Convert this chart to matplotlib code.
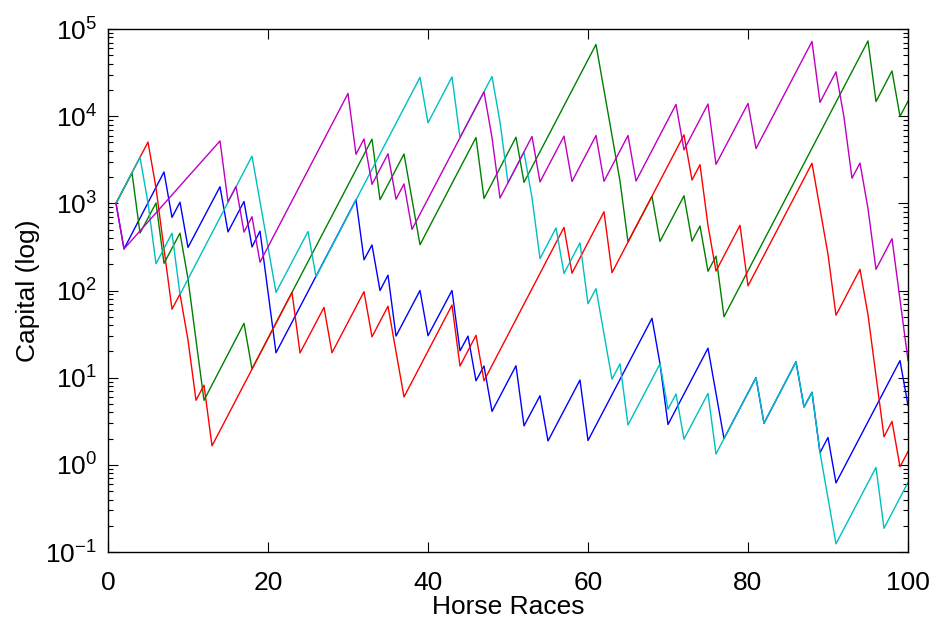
import matplotlib
matplotlib.use("Agg")
import matplotlib.pyplot as plt
from matplotlib.ticker import LogLocator, NullLocator

# capital after each race, one run per colour (turning points only)
blue_x = [1, 2, 7, 8, 9, 10, 14, 15, 17, 18, 19, 21, 31, 32, 33, 34, 35, 36, 39, 40,
          43, 44, 45, 46, 47, 48, 51, 52, 54, 55, 59, 60, 68, 69, 70, 75, 77, 81, 82, 86,
          87, 88, 89, 90, 91, 99, 100]
blue_y = [1000, 300, 2290, 690, 1030, 312, 1550, 470, 1050, 316, 480, 19.3, 1100, 225, 333, 100, 150, 30, 100, 30.3,
          100, 20.3, 30, 9.2, 13.6, 4.1, 13.7, 2.8, 6.2, 1.88, 9.4, 1.9, 48, 14.4, 2.9, 21.8, 2.0, 10, 3.0, 15.2,
          4.6, 6.8, 1.38, 2.06, 0.62, 15.7, 4.8]

green_x = [1, 3, 4, 6, 7, 9, 10, 11, 12, 17, 18, 33, 34, 37, 39, 46, 47, 51, 52, 61,
           62, 63, 64, 65, 68, 69, 72, 73, 74, 75, 76, 77, 95, 96, 98, 99, 100]
green_y = [1000, 2230, 455, 1010, 205, 455, 136, 27, 5.5, 42, 12.6, 5450, 1100, 3680, 335, 5690, 1135, 5740, 1740, 66500,
           19900, 6000, 1800, 362, 1200, 366, 1220, 368, 550, 166, 248, 50, 73000, 14700, 33000, 9950, 14850]

red_x = [1, 5, 6, 7, 8, 9, 10, 11, 12, 13, 23, 24, 27, 28, 32, 33, 35, 37, 43, 44,
         46, 47, 57, 58, 62, 63, 72, 73, 74, 75, 76, 79, 80, 88, 89, 90, 91, 94, 95, 96,
         97, 98, 99, 100]
red_y = [1000, 5050, 1500, 300, 61, 91, 27, 5.5, 8.2, 1.65, 95, 19.2, 64, 19.3, 97, 29.4, 66, 6, 68, 13.6,
         30.6, 9.2, 530, 158, 800, 160, 6100, 1850, 2780, 556, 167, 560, 113, 2880, 865, 260, 52, 175, 52.5, 10.5,
         2.1, 3.15, 0.95, 1.42]

cyan_x = [1, 4, 5, 6, 8, 9, 18, 21, 25, 26, 39, 40, 43, 44, 48, 49, 50, 52, 53, 54,
          56, 57, 59, 60, 61, 63, 64, 65, 69, 70, 71, 72, 75, 76, 77, 81, 82, 86, 87, 88,
          89, 91, 96, 97, 100]
cyan_y = [1000, 3380, 1010, 203, 455, 90, 3480, 95, 475, 144, 27900, 8400, 28200, 5700, 28500, 8560, 1720, 3860, 1160, 232,
          522, 157, 352, 70.5, 105, 9.6, 14.4, 2.87, 14.4, 4.35, 6.5, 1.97, 6.6, 1.33, 2.0, 10, 3.0, 15.2, 4.6, 6.8,
          1.38, 0.124, 0.935, 0.187, 0.63]

magenta_x = [1, 2, 14, 15, 16, 17, 18, 19, 30, 31, 32, 33, 35, 36, 37, 38, 47, 48, 49, 53,
             54, 57, 58, 61, 62, 65, 66, 71, 72, 75, 76, 80, 81, 88, 89, 91, 92, 93, 94, 95,
             96, 98, 100]
magenta_y = [1000, 300, 5200, 1040, 1560, 468, 702, 211, 18200, 3650, 5480, 1650, 3700, 1115, 1670, 503, 19000, 5700, 1150, 5850,
             1760, 5900, 1780, 6000, 1790, 6000, 1800, 13650, 4100, 13800, 2800, 14000, 4250, 72000, 14400, 32300, 9700, 1940, 2900, 870,
             175, 393, 15.8]

plt.rcParams['font.family'] = ['Liberation Sans', 'DejaVu Sans']
plt.rcParams['font.size'] = 19

fig = plt.figure(figsize=(9.37, 6.22), dpi=100)
ax = fig.add_axes([108 / 937, 1 - 552 / 622, 800 / 937, 523 / 622])

runs = [(blue_x, blue_y, (0, 0, 1)),
        (green_x, green_y, (0, 0.5, 0)),
        (red_x, red_y, (1, 0, 0)),
        (cyan_x, cyan_y, (0, 0.75, 0.75)),
        (magenta_x, magenta_y, (0.75, 0, 0.75))]
for xs, ys, col in runs:
    ax.plot(xs, ys, color=col, lw=1.0)

ax.set_yscale('log')
ax.set_xlim(0, 100)
ax.set_ylim(1e-1, 1e5)
ax.set_xticks(range(0, 101, 20))
ax.xaxis.set_minor_locator(NullLocator())
ax.yaxis.set_major_locator(LogLocator(base=10, numticks=10))
ax.yaxis.set_minor_locator(LogLocator(base=10, subs=range(2, 10), numticks=20))
ax.tick_params(which='both', direction='in', top=True, right=True, width=0.8)
ax.tick_params(which='major', length=7)
ax.tick_params(which='minor', length=3.5)
ax.tick_params(axis='x', which='major', pad=14)
ax.tick_params(axis='y', which='major', pad=8)
for sp in ax.spines.values():
    sp.set_linewidth(1.0)

ax.set_xlabel('Horse Races', labelpad=0)
ax.set_ylabel('Capital (log)', labelpad=4)

fig.savefig('out.png', dpi=100)
